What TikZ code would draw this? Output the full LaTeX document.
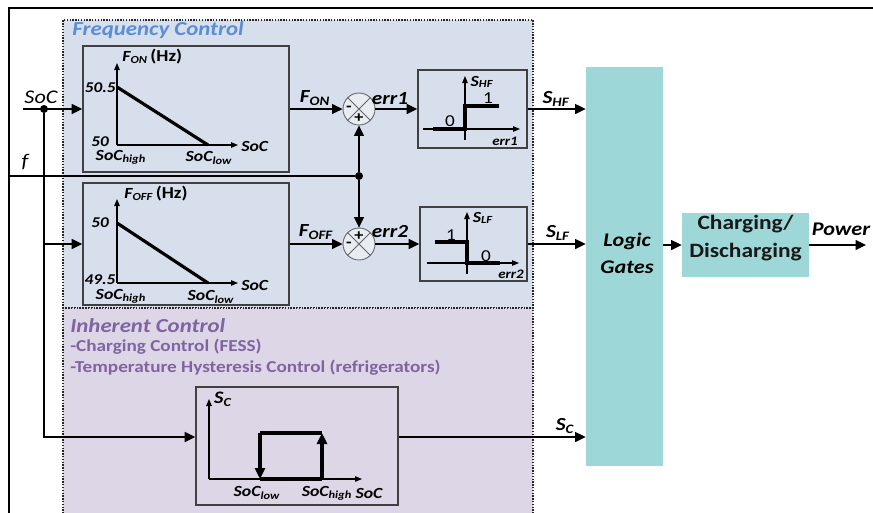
\documentclass[tikz,border=0pt]{standalone}
\usepackage{fontspec}
\setmainfont{Carlito}[FakeStretch=1.15]
\usetikzlibrary{positioning, arrows.meta, calc, fit}
\definecolor{fcfill}{RGB}{214,223,235}
\definecolor{icfill}{RGB}{221,214,230}
\definecolor{fctext}{RGB}{91,142,214}
\definecolor{ictext}{RGB}{128,100,162}
\definecolor{gatefill}{RGB}{158,215,215}
\definecolor{sumfill}{RGB}{232,236,243}

\begin{document}
\begin{tikzpicture}[
  x=0.02cm, y=-0.02cm,
  >={Triangle[length=2.1mm, width=2mm]},
  every node/.style={font=\bfseries\itshape\fontsize{10.5}{12}\selectfont, inner sep=0pt},
  region/.style = {draw=black!85, dash pattern=on 0.8pt off 0.8pt, line width=0.8pt},
  blk/.style    = {draw=black!75, line width=0.9pt},
  gate/.style   = {fill=gatefill, text=black!90},
  sum/.style    = {circle, draw=black!60, fill=sumfill, minimum size=0.64cm, line width=0.5pt},
  sig/.style    = {->, line width=0.7pt},
  ax/.style     = {-{Triangle[length=1.4mm, width=1.1mm]}, line width=0.6pt},
  thickln/.style= {line width=1.8pt},
  jdot/.style   = {circle, fill, minimum size=0.16cm},
  plt/.style    = {font=\bfseries\itshape\fontsize{8.8}{10}\selectfont},
  num/.style    = {font=\bfseries\itshape\fontsize{8.5}{10}\selectfont},
  lvl/.style    = {font=\fontsize{9.5}{10}\selectfont},
  errlbl/.style = {font=\bfseries\itshape\fontsize{7.4}{9}\selectfont},
  sgn/.style    = {font=\bfseries\fontsize{9}{10}\selectfont},
  ttl/.style    = {anchor=west, font=\bfseries\itshape\fontsize{11.3}{13}\selectfont},
  note/.style   = {font=\bfseries\fontsize{9.5}{11}\selectfont, text=ictext, anchor=west},
]
  \useasboundingbox (0,0) rectangle (873,512);
  % frame and the two control areas
  \node[region, fill=fcfill, fit={(63,20) (533,308)}] (freq) {};
  \node[region, fill=icfill, fit={(63,308) (533,530)}] (inh) {};
  \draw[line width=1.6pt] (9,520) -- (9,8) -- (880,8);
  \node[ttl, text=fctext] (fctitle) at (72,30) {Frequency Control};
  \node[ttl, text=ictext] (ictitle) at (70,326) {Inherent Control};
  \node[note] (icone) at (70,347) {-Charging Control (FESS)};
  \node[note] (ictwo) at (70,368) {-Temperature Hysteresis Control (refrigerators)};

  % blocks
  \node[blk, fit={(83,46) (289,172)}]   (fon)  {};
  \node[blk, fit={(83,183) (289,305)}]  (foff) {};
  \node[blk, fit={(418,70) (527,148)}]  (rlyone) {};
  \node[blk, fit={(420,207) (527,281)}] (rlytwo) {};
  \node[blk, fit={(196,387) (398,505)}] (sc)   {};
  \node[gate, fit={(586,67) (663,466)}] (logic) {};
  \node[align=center, font=\bfseries\itshape\fontsize{11}{15.5}\selectfont] (logictxt) at (627,253) {Logic\\Gates};
  \node[gate, fit={(682,213) (809,277)}, align=center, font=\bfseries\fontsize{11.6}{16}\selectfont] (chg) {Charging/\\Discharging};
  \node[sum] (sone) at (359,109) {};
  \node[sum] (stwo) at (359,244) {};
  \foreach \s in {sone,stwo}
    \draw[black!60, line width=0.5pt] (\s.north west) -- (\s.south east) (\s.north east) -- (\s.south west);
  \node[sgn] (sonem) at ($(sone)+(-10,0)$) {-};
  \node[sgn] (sonep) at ($(sone)+(0,9)$) {+};
  \node[sgn] (stwop) at ($(stwo)+(0,-8)$) {+};
  \node[sgn] (stwom) at ($(stwo)+(-10,1)$) {-};

  % F_ON curve
  \draw[ax] (117,145) -- (117,63);
  \draw[ax] (117,145) -- (238,145);
  \draw[thickln] (117,87) -- (208,145);
  \node[plt, anchor=west] (fony) at (122,57) {F\textsubscript{ON}\,\textup{\fontsize{9.5}{10}\selectfont(Hz)}};
  \node[num, anchor=east] (fonmax) at (116,88) {50.5};
  \node[num] (fonmin) at (100,142) {50};
  \node[plt] (fonhi) at (121,157) {SoC\textsubscript{high}};
  \node[plt] (fonlo) at (209,158) {SoC\textsubscript{low}};
  \node[plt, anchor=west] (fonx) at (241,146) {SoC};

  % F_OFF curve
  \draw[ax] (117,283) -- (117,199);
  \draw[ax] (117,283) -- (238,283);
  \draw[thickln] (117,223) -- (208,283);
  \node[plt] (foffy) at (156,194) {F\textsubscript{OFF}\,\textup{\fontsize{9.5}{10}\selectfont(Hz)}};
  \node[num] (foffmax) at (100,223) {50};
  \node[num] (foffmin) at (100,280) {49.5};
  \node[plt] (foffhi) at (121,296) {SoC\textsubscript{high}};
  \node[plt] (fofflo) at (211,297) {SoC\textsubscript{low}};
  \node[plt, anchor=west] (foffx) at (241,285) {SoC};

  % relays
  \draw[ax] (465,140) -- (465,76);
  \draw[ax] (423,129) -- (520,129);
  \draw[thickln] (433,129) -- (465,129) -- (465,106) -- (499,106);
  \node[plt] (rlyoney) at (482,82) {S\textsubscript{HF}};
  \node[lvl] (rlyonehi) at (488,98) {1};
  \node[lvl] (rlyonelo) at (450,121) {0};
  \node[errlbl] (rlyonex) at (505,141) {err1};
  \draw[ax] (467,274) -- (467,212);
  \draw[ax] (427,263) -- (519,263);
  \draw[thickln] (435,242) -- (467,242) -- (467,263) -- (500,263);
  \node[plt] (rlytwoy) at (483,218) {S\textsubscript{LF}};
  \node[lvl] (rlytwohi) at (451,235) {1};
  \node[lvl] (rlytwolo) at (486,256) {0};
  \node[errlbl] (rlytwox) at (511,274) {err2};

  % hysteresis
  \draw[ax] (209,479) -- (209,399);
  \draw[ax] (209,479) -- (362,479);
  \draw[thickln] (260,479) -- (322,479) (322,433) -- (260,433);
  \draw[thickln, -{Triangle[length=2.2mm, width=2mm]}] (260,433) -- (260,479);
  \draw[thickln, -{Triangle[length=2.2mm, width=2mm]}] (322,479) -- (322,433);
  \node[plt, font=\bfseries\itshape\fontsize{10}{11}\selectfont] (scy) at (223,399) {S\textsubscript{C}};
  \node[plt] (sclo) at (257,493) {SoC\textsubscript{low}};
  \node[plt] (schi) at (327,493) {SoC\textsubscript{high}};
  \node[plt] (scx) at (369,493) {SoC};

  % signals
  \coordinate (socin) at (23,109);
  \coordinate (fin) at (9,176);
  \coordinate (jsc) at (44,437);
  \coordinate (out) at (866,245);
  \node[jdot] (jsoc) at (44,109) {};
  \node[jdot] (jf) at (359,176) {};
  \draw[sig] (socin) -- (fon.west);
  \draw[sig] (jsoc) -- (jsc) -- (sc.west |- jsc);
  \draw[sig] (jsoc |- foff) -- (foff.west);
  \draw[line width=0.7pt] (fin) -- (jf);
  \draw[sig] (jf) -- (sone.south);
  \draw[sig] (jf) -- (stwo.north);
  \foreach \a/\b in {fon/sone,foff/stwo,sone/rlyone,stwo/rlytwo,chg/out}
    \draw[sig] (\a.east) -- (\b.west);
  \foreach \a in {rlyone,rlytwo}
    \draw[sig] (\a.east) -- (logic.west |- \a);
  \draw[sig] (sc.east |- jsc) -- (logic.west |- jsc);
  \draw[sig] (logic.east |- chg) -- (chg.west);

  \node[font=\itshape\fontsize{11}{12}\selectfont] (soclbl) at (41,97) {SoC};
  \node[font=\itshape\fontsize{11}{12}\selectfont] (flbl) at (25,162) {f};
  \node (fonsig) at (315,98) {F\textsubscript{ON}};
  \node (erronesig) at (390,99) {err1};
  \node (foffsig) at (316,232) {F\textsubscript{OFF}};
  \node (errtwosig) at (390,232) {err2};
  \node (shf) at (556,99) {S\textsubscript{HF}};
  \node (slf) at (558,233) {S\textsubscript{LF}};
  \node (scsig) at (565,426) {S\textsubscript{C}};
  \node[font=\bfseries\itshape\fontsize{11}{12}\selectfont] (power) at (841,229) {Power};
\end{tikzpicture}
\end{document}
